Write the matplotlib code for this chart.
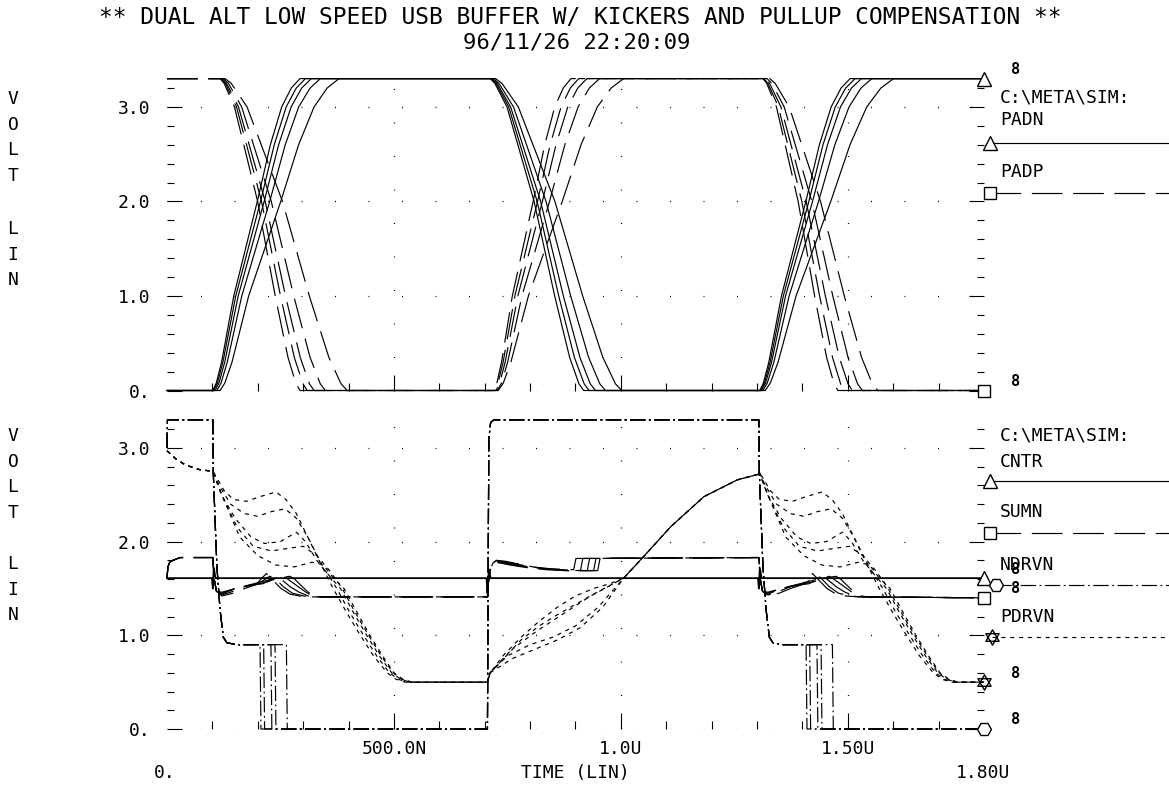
import matplotlib
matplotlib.use("Agg")
import matplotlib.pyplot as plt
from matplotlib.path import Path
from matplotlib.lines import Line2D
from matplotlib.ticker import FixedLocator

plt.rcParams['font.family'] = ['DejaVu Sans Mono']

W, H = 1169, 787
T_END = 1800  # ns

# ---------------- top panel: PADN / PADP (5 sweep cases) ----------------
RISE_FRAC = [0, 0.04, 0.10, 0.24, 0.51, 0.66, 0.79, 0.90, 1.0]
RISE_V = [0, 0.08, 0.30, 1.00, 2.00, 2.60, 3.00, 3.20, 3.30]
FALL_FRAC = [0, 0.05, 0.18, 0.47, 0.69, 0.85, 0.95, 1.0]
FALL_V = [3.30, 3.25, 3.00, 2.00, 1.00, 0.35, 0.07, 0.0]

PADN_RISE1_START = [101, 103, 106, 110, 117]
PADN_RISE1_DUR = [192, 202, 212, 228, 262]
PADN_FALL_START = [712, 714, 716, 719, 724]
PADN_FALL_DUR = [206, 216, 228, 247, 278]
PADN_RISE2_START = [1306, 1308, 1310, 1313, 1318]
PADN_RISE2_DUR = [199, 208, 220, 240, 283]

PADP_FALL1_START = [117, 119, 121, 124, 128]
PADP_FALL1_DUR = [176, 190, 203, 225, 269]
PADP_RISE_START = [720, 722, 725, 728, 730]
PADP_RISE_DUR = [170, 185, 200, 225, 276]
PADP_FALL2_START = [1313, 1315, 1318, 1322, 1328]
PADP_FALL2_DUR = [165, 178, 192, 210, 238]

# ---------------- bottom panel: CNTR / SUMN / NDRVN / PDRVN ----------------
EDGE_T = [101, 706, 1304]  # switching instants, ns

CNTR_T = [0, 99, 101, 103, 107, 704, 706, 709, 713, 1302, 1304, 1306, 1310, T_END]
CNTR_V = [1.61, 1.61, 1.50, 1.72, 1.61, 1.61, 1.45, 1.70, 1.61, 1.61, 1.50, 1.72, 1.61, 1.61]

SUMN_START_T = [0, 2, 6, 13, 29]
SUMN_START_V = [1.61, 1.73, 1.78, 1.80, 1.83]
SUMN_FALL_T = [
    [0, 3, 8, 20, 45, 70, 95, 110, 118, 130, 150, 170, 190, 220],
    [0, 3, 8, 20, 45, 70, 100, 125, 135, 155, 175, 200, 225],
    [0, 3, 8, 20, 45, 75, 110, 140, 150, 170, 190, 210, 230],
    [0, 3, 8, 20, 50, 80, 120, 155, 165, 185, 205, 220, 235],
    [0, 3, 8, 20, 50, 90, 130, 170, 180, 195, 210, 225, 240],
]
SUMN_FALL_V = [
    [1.83, 1.60, 1.47, 1.42, 1.45, 1.50, 1.54, 1.62, 1.66, 1.60, 1.50, 1.44, 1.42, 1.41],
    [1.83, 1.60, 1.47, 1.43, 1.47, 1.52, 1.55, 1.63, 1.62, 1.52, 1.45, 1.42, 1.41],
    [1.83, 1.60, 1.47, 1.44, 1.49, 1.53, 1.55, 1.62, 1.60, 1.52, 1.46, 1.42, 1.41],
    [1.83, 1.60, 1.47, 1.45, 1.50, 1.53, 1.57, 1.63, 1.60, 1.53, 1.46, 1.42, 1.41],
    [1.83, 1.60, 1.47, 1.46, 1.50, 1.55, 1.60, 1.63, 1.60, 1.53, 1.46, 1.42, 1.41],
]
SUMN_RISE_T = [
    [0, 2, 6, 12, 20, 40, 70, 100, 140, 190, 195],
    [0, 2, 6, 12, 20, 40, 75, 110, 150, 205, 210],
    [0, 2, 6, 12, 20, 45, 80, 120, 160, 220, 225],
    [0, 2, 6, 12, 20, 45, 85, 125, 170, 234, 239],
    [0, 2, 6, 12, 20, 50, 90, 130, 180, 243, 248],
]
SUMN_RISE_V = [
    [1.41, 1.56, 1.70, 1.77, 1.80, 1.79, 1.76, 1.73, 1.71, 1.70, 1.82],
    [1.41, 1.56, 1.70, 1.77, 1.80, 1.78, 1.75, 1.72, 1.70, 1.69, 1.82],
    [1.41, 1.56, 1.70, 1.77, 1.79, 1.77, 1.74, 1.71, 1.70, 1.69, 1.82],
    [1.41, 1.56, 1.70, 1.76, 1.78, 1.76, 1.73, 1.71, 1.69, 1.69, 1.82],
    [1.41, 1.56, 1.70, 1.76, 1.78, 1.75, 1.72, 1.70, 1.69, 1.69, 1.82],
]
SUMN_END_V = 1.40

NDRVN_START_T = [0, 1]
NDRVN_START_V = [3.0, 3.3]
NDRVN_FALL_T = [0, 1, 9, 16, 23, 31, 53]
NDRVN_FALL_V = [3.3, 2.73, 1.73, 1.27, 0.98, 0.92, 0.90]
NDRVN_DROP_T = [104, 112, 128, 137, 162]   # plateau -> 0, per case
NDRVN_RISE_T = [0, 3, 7, 14]
NDRVN_RISE_V = [0.0, 3.10, 3.27, 3.30]

PDRVN_START_T = [0, 20, 40, 70]
PDRVN_START_V = [2.97, 2.88, 2.82, 2.77]
PDRVN_FALL_T = [
    [0, 9, 24, 45, 74, 104, 139, 161, 184, 209, 239, 265, 294, 325, 354, 384, 404, 424],
    [0, 14, 39, 69, 99, 129, 159, 184, 209, 244, 273, 301, 332, 361, 389, 409, 429],
    [0, 19, 49, 84, 114, 149, 184, 204, 229, 254, 281, 309, 339, 367, 394, 414, 434],
    [0, 24, 59, 99, 139, 179, 219, 244, 264, 289, 317, 346, 374, 399, 419, 439],
    [0, 21, 54, 89, 129, 169, 199, 229, 259, 285, 313, 343, 371, 397, 417, 437],
]
PDRVN_FALL_V = [
    [2.75, 2.68, 2.55, 2.45, 2.43, 2.48, 2.53, 2.45, 2.30, 2.05, 1.75, 1.50, 1.25, 1.00, 0.78, 0.60, 0.53, 0.50],
    [2.75, 2.60, 2.40, 2.30, 2.27, 2.32, 2.35, 2.25, 2.05, 1.72, 1.50, 1.25, 1.00, 0.78, 0.60, 0.53, 0.50],
    [2.75, 2.50, 2.25, 2.05, 1.98, 2.00, 2.10, 2.00, 1.80, 1.65, 1.50, 1.25, 1.00, 0.78, 0.60, 0.53, 0.50],
    [2.75, 2.45, 2.05, 1.85, 1.75, 1.73, 1.78, 1.75, 1.62, 1.50, 1.25, 1.00, 0.78, 0.60, 0.53, 0.50],
    [2.75, 2.48, 2.15, 1.95, 1.90, 1.93, 1.95, 1.85, 1.68, 1.50, 1.25, 1.00, 0.78, 0.60, 0.53, 0.50],
]
PDRVN_RAMP_T = [
    [0, 6, 34, 74, 114, 154, 194, 234, 269, 300],
    [0, 6, 34, 74, 114, 154, 194, 234, 269, 300],
    [0, 6, 57, 110, 164, 224, 300],
    [0, 6, 44, 94, 144, 194, 244, 300],
    [0, 6, 54, 104, 154, 204, 254, 300],
]
PDRVN_RAMP_V = [
    [0.50, 0.60, 0.78, 0.98, 1.15, 1.30, 1.42, 1.50, 1.55, 1.61],
    [0.50, 0.60, 0.75, 0.95, 1.10, 1.22, 1.33, 1.44, 1.53, 1.61],
    [0.50, 0.60, 0.86, 1.05, 1.22, 1.41, 1.61],
    [0.50, 0.60, 0.78, 0.90, 0.98, 1.10, 1.30, 1.61],
    [0.50, 0.60, 0.75, 0.85, 0.95, 1.08, 1.30, 1.61],
]
PDRVN_TAIL_T = [344, 404, 477, 551, 598]
PDRVN_TAIL_V = [1.84, 2.16, 2.48, 2.66, 2.72]
PDRVN_END_V = 0.50

# ---------------- text ----------------
TITLE = "** DUAL ALT LOW SPEED USB BUFFER W/ KICKERS AND PULLUP COMPENSATION **"
STAMP = "96/11/26 22:20:09"
FILE_LABEL = "C:\\META\\SIM:"
Y_TICKS = [0, 1, 2, 3]
Y_TICK_LABELS = ["0.", "1.0", "2.0", "3.0"]
X_TICKS = [500, 1000, 1500]
X_TICK_LABELS = ["500.0N", "1.0U", "1.50U"]

SOLID = '-'
LONG_DASH = (0, (26, 9))
DASH_DOT = (0, (13, 3, 1.5, 3))
SHORT_DASH = (0, (3.5, 4))

star6 = Path([(0, 1), (-0.866, -0.5), (0.866, -0.5), (0, 1),
              (0, -1), (-0.866, 0.5), (0.866, 0.5), (0, -1)],
             [Path.MOVETO, Path.LINETO, Path.LINETO, Path.CLOSEPOLY] * 2)


def fx(px):
    return px / W


def fy(py):
    return 1 - py / H


def scaled_edge(start, dur, fracs, volts):
    return [start + f * dur for f in fracs], list(volts)


def shifted(t0, ts):
    return [t0 + x for x in ts]


fig = plt.figure(figsize=(W / 100, H / 100), dpi=100)
ax1 = fig.add_axes([fx(167), fy(390.5), fx(984) - fx(167), fy(78.6) - fy(390.5)])
ax2 = fig.add_axes([fx(167), fy(729), fx(984) - fx(167), fy(419.8) - fy(729)])

for ax in (ax1, ax2):
    ax.set_xlim(0, T_END)
    ax.set_ylim(0, 3.3)
    for s in ax.spines.values():
        s.set_visible(False)
    ax.yaxis.set_major_locator(FixedLocator(Y_TICKS))
    ax.yaxis.set_minor_locator(FixedLocator([i * 0.2 for i in range(1, 17) if i % 5]))
    ax.xaxis.set_major_locator(FixedLocator(X_TICKS))
    ax.xaxis.set_minor_locator(FixedLocator([i * 100 for i in range(1, 18) if i % 5]))
    ax.set_yticklabels(Y_TICK_LABELS)
    ax.tick_params(axis='y', which='major', direction='in', left=True, right=True,
                   length=11, width=0.8, pad=12, labelsize=13)
    ax.tick_params(axis='y', which='minor', direction='in', left=True, right=True,
                   length=5, width=0.8)
    ax.tick_params(axis='x', which='major', direction='in', length=11.5, width=0.8,
                   pad=8, labelsize=13)
    ax.tick_params(axis='x', which='minor', direction='in', length=5.5, width=0.8)
    ax.grid(True, which='major', color='black', linestyle=(0, (0.8, 26)), linewidth=0.9)
    ax.set_axisbelow(True)

ax1.tick_params(axis='x', labelbottom=False)
ax2.set_xticklabels(X_TICK_LABELS)

LW = 0.85
kw = dict(color='black', lw=LW, clip_on=False)

# top panel curves
for k in range(5):
    t1, v1 = scaled_edge(PADN_RISE1_START[k], PADN_RISE1_DUR[k], RISE_FRAC, RISE_V)
    t2, v2 = scaled_edge(PADN_FALL_START[k], PADN_FALL_DUR[k], FALL_FRAC, FALL_V)
    t3, v3 = scaled_edge(PADN_RISE2_START[k], PADN_RISE2_DUR[k], RISE_FRAC, RISE_V)
    padn_t = [0] + t1 + t2 + t3 + [T_END]
    padn_v = [0] + v1 + v2 + v3 + [3.3]
    ax1.plot(padn_t, padn_v, linestyle=SOLID, **kw)

    t1, v1 = scaled_edge(PADP_FALL1_START[k], PADP_FALL1_DUR[k], FALL_FRAC, FALL_V)
    t2, v2 = scaled_edge(PADP_RISE_START[k], PADP_RISE_DUR[k], RISE_FRAC, RISE_V)
    t3, v3 = scaled_edge(PADP_FALL2_START[k], PADP_FALL2_DUR[k], FALL_FRAC, FALL_V)
    padp_t = [0] + t1 + t2 + t3 + [T_END]
    padp_v = [3.3] + v1 + v2 + v3 + [0]
    ax1.plot(padp_t, padp_v, linestyle=LONG_DASH, **kw)

# bottom panel curves
ax2.plot(CNTR_T, CNTR_V, linestyle=SOLID, color='black', lw=1.3, clip_on=False)
e0, e1, e2 = EDGE_T
for k in range(5):
    sumn_t = (SUMN_START_T + shifted(e0, SUMN_FALL_T[k]) + shifted(e1, SUMN_RISE_T[k])
              + shifted(e2, SUMN_FALL_T[k]) + [T_END])
    sumn_v = SUMN_START_V + SUMN_FALL_V[k] + SUMN_RISE_V[k] + SUMN_FALL_V[k] + [SUMN_END_V]
    ax2.plot(sumn_t, sumn_v, linestyle=LONG_DASH, **kw)

    d = NDRVN_DROP_T[k]
    ndrvn_t = (NDRVN_START_T + shifted(e0, NDRVN_FALL_T) + [e0 + d, e0 + d + 2]
               + shifted(e1, NDRVN_RISE_T) + shifted(e2, NDRVN_FALL_T)
               + [e2 + d, e2 + d + 2, T_END])
    ndrvn_v = (NDRVN_START_V + NDRVN_FALL_V + [0.90, 0.0] + NDRVN_RISE_V
               + NDRVN_FALL_V + [0.90, 0.0, 0.0])
    ax2.plot(ndrvn_t, ndrvn_v, linestyle=DASH_DOT, **kw)

    pdrvn_t = (PDRVN_START_T + shifted(e0, PDRVN_FALL_T[k]) + shifted(e1, PDRVN_RAMP_T[k])
               + shifted(e1, PDRVN_TAIL_T) + shifted(e2, PDRVN_FALL_T[k]) + [T_END])
    pdrvn_v = (PDRVN_START_V + PDRVN_FALL_V[k] + PDRVN_RAMP_V[k] + PDRVN_TAIL_V
               + PDRVN_FALL_V[k] + [PDRVN_END_V])
    ax2.plot(pdrvn_t, pdrvn_v, linestyle=SHORT_DASH, **kw)

# end-of-trace markers with the stacked case tags
mk = dict(color='black', mfc='white', mew=1.0, clip_on=False, zorder=5, linestyle='none')
ends = [
    (ax1, padn_v[-1], '^', 10),
    (ax1, padp_v[-1], 's', 9),
    (ax2, CNTR_V[-1], '^', 10),
    (ax2, SUMN_END_V, 's', 9),
    (ax2, PDRVN_END_V, star6, 11),
    (ax2, ndrvn_v[-1], 'H', 10),
]
for ax, v, m, ms in ends:
    ax.plot([T_END], [v], marker=m, ms=ms, **mk)
    ax.annotate("8", (T_END, v), xytext=(32, 9), textcoords='offset pixels',
                fontsize=11, fontweight='bold', ha='center', va='center',
                annotation_clip=False)

# legend blocks at the right
LEG_FONT = 13
fig.text(fx(1000), fy(97), FILE_LABEL, fontsize=LEG_FONT, va='center')
fig.text(fx(1000), fy(435), FILE_LABEL, fontsize=LEG_FONT, va='center')
legend_rows = [
    ("PADN", 120, 143, SOLID, '^', 10, 990),
    ("PADP", 172, 193, LONG_DASH, 's', 9, 990),
    ("CNTR", 462, 481, SOLID, '^', 10, 990),
    ("SUMN", 512, 533, LONG_DASH, 's', 9, 990),
    ("NDRVN", 565, 585, DASH_DOT, 'H', 10, 996),
    ("PDRVN", 617, 637, SHORT_DASH, star6, 11, 992),
]
for name, ty, ly, ls, m, ms, mx in legend_rows:
    fig.text(fx(1000), fy(ty), name, fontsize=LEG_FONT, va='center')
    fig.add_artist(Line2D([fx(mx), fx(1169)], [fy(ly), fy(ly)], transform=fig.transFigure,
                          color='black', lw=LW, linestyle=ls))
    fig.add_artist(Line2D([fx(mx)], [fy(ly)], transform=fig.transFigure, marker=m, ms=ms,
                          color='black', mfc='white', mew=1.0, linestyle='none'))

# axis words
for top in (100, 437):
    fig.text(fx(13), fy(top - 10), "V\nO\nL\nT", fontsize=13, ha='center', va='top',
             linespacing=1.55)
for top in (230, 565):
    fig.text(fx(13), fy(top - 10), "L\nI\nN", fontsize=13, ha='center', va='top',
             linespacing=1.55)

fig.text(fx(165), fy(773), "0.", fontsize=13, ha='center', va='center')
fig.text(fx(983), fy(773), "1.80U", fontsize=13, ha='center', va='center')
fig.text(fx(575), fy(773), "TIME (LIN)", fontsize=13, ha='center', va='center')

fig.text(fx(580), fy(18), TITLE, fontsize=16.5, ha='center', va='center')
fig.text(fx(577), fy(43), STAMP, fontsize=16, ha='center', va='center')

fig.savefig("out.png", dpi=100, facecolor='white')
